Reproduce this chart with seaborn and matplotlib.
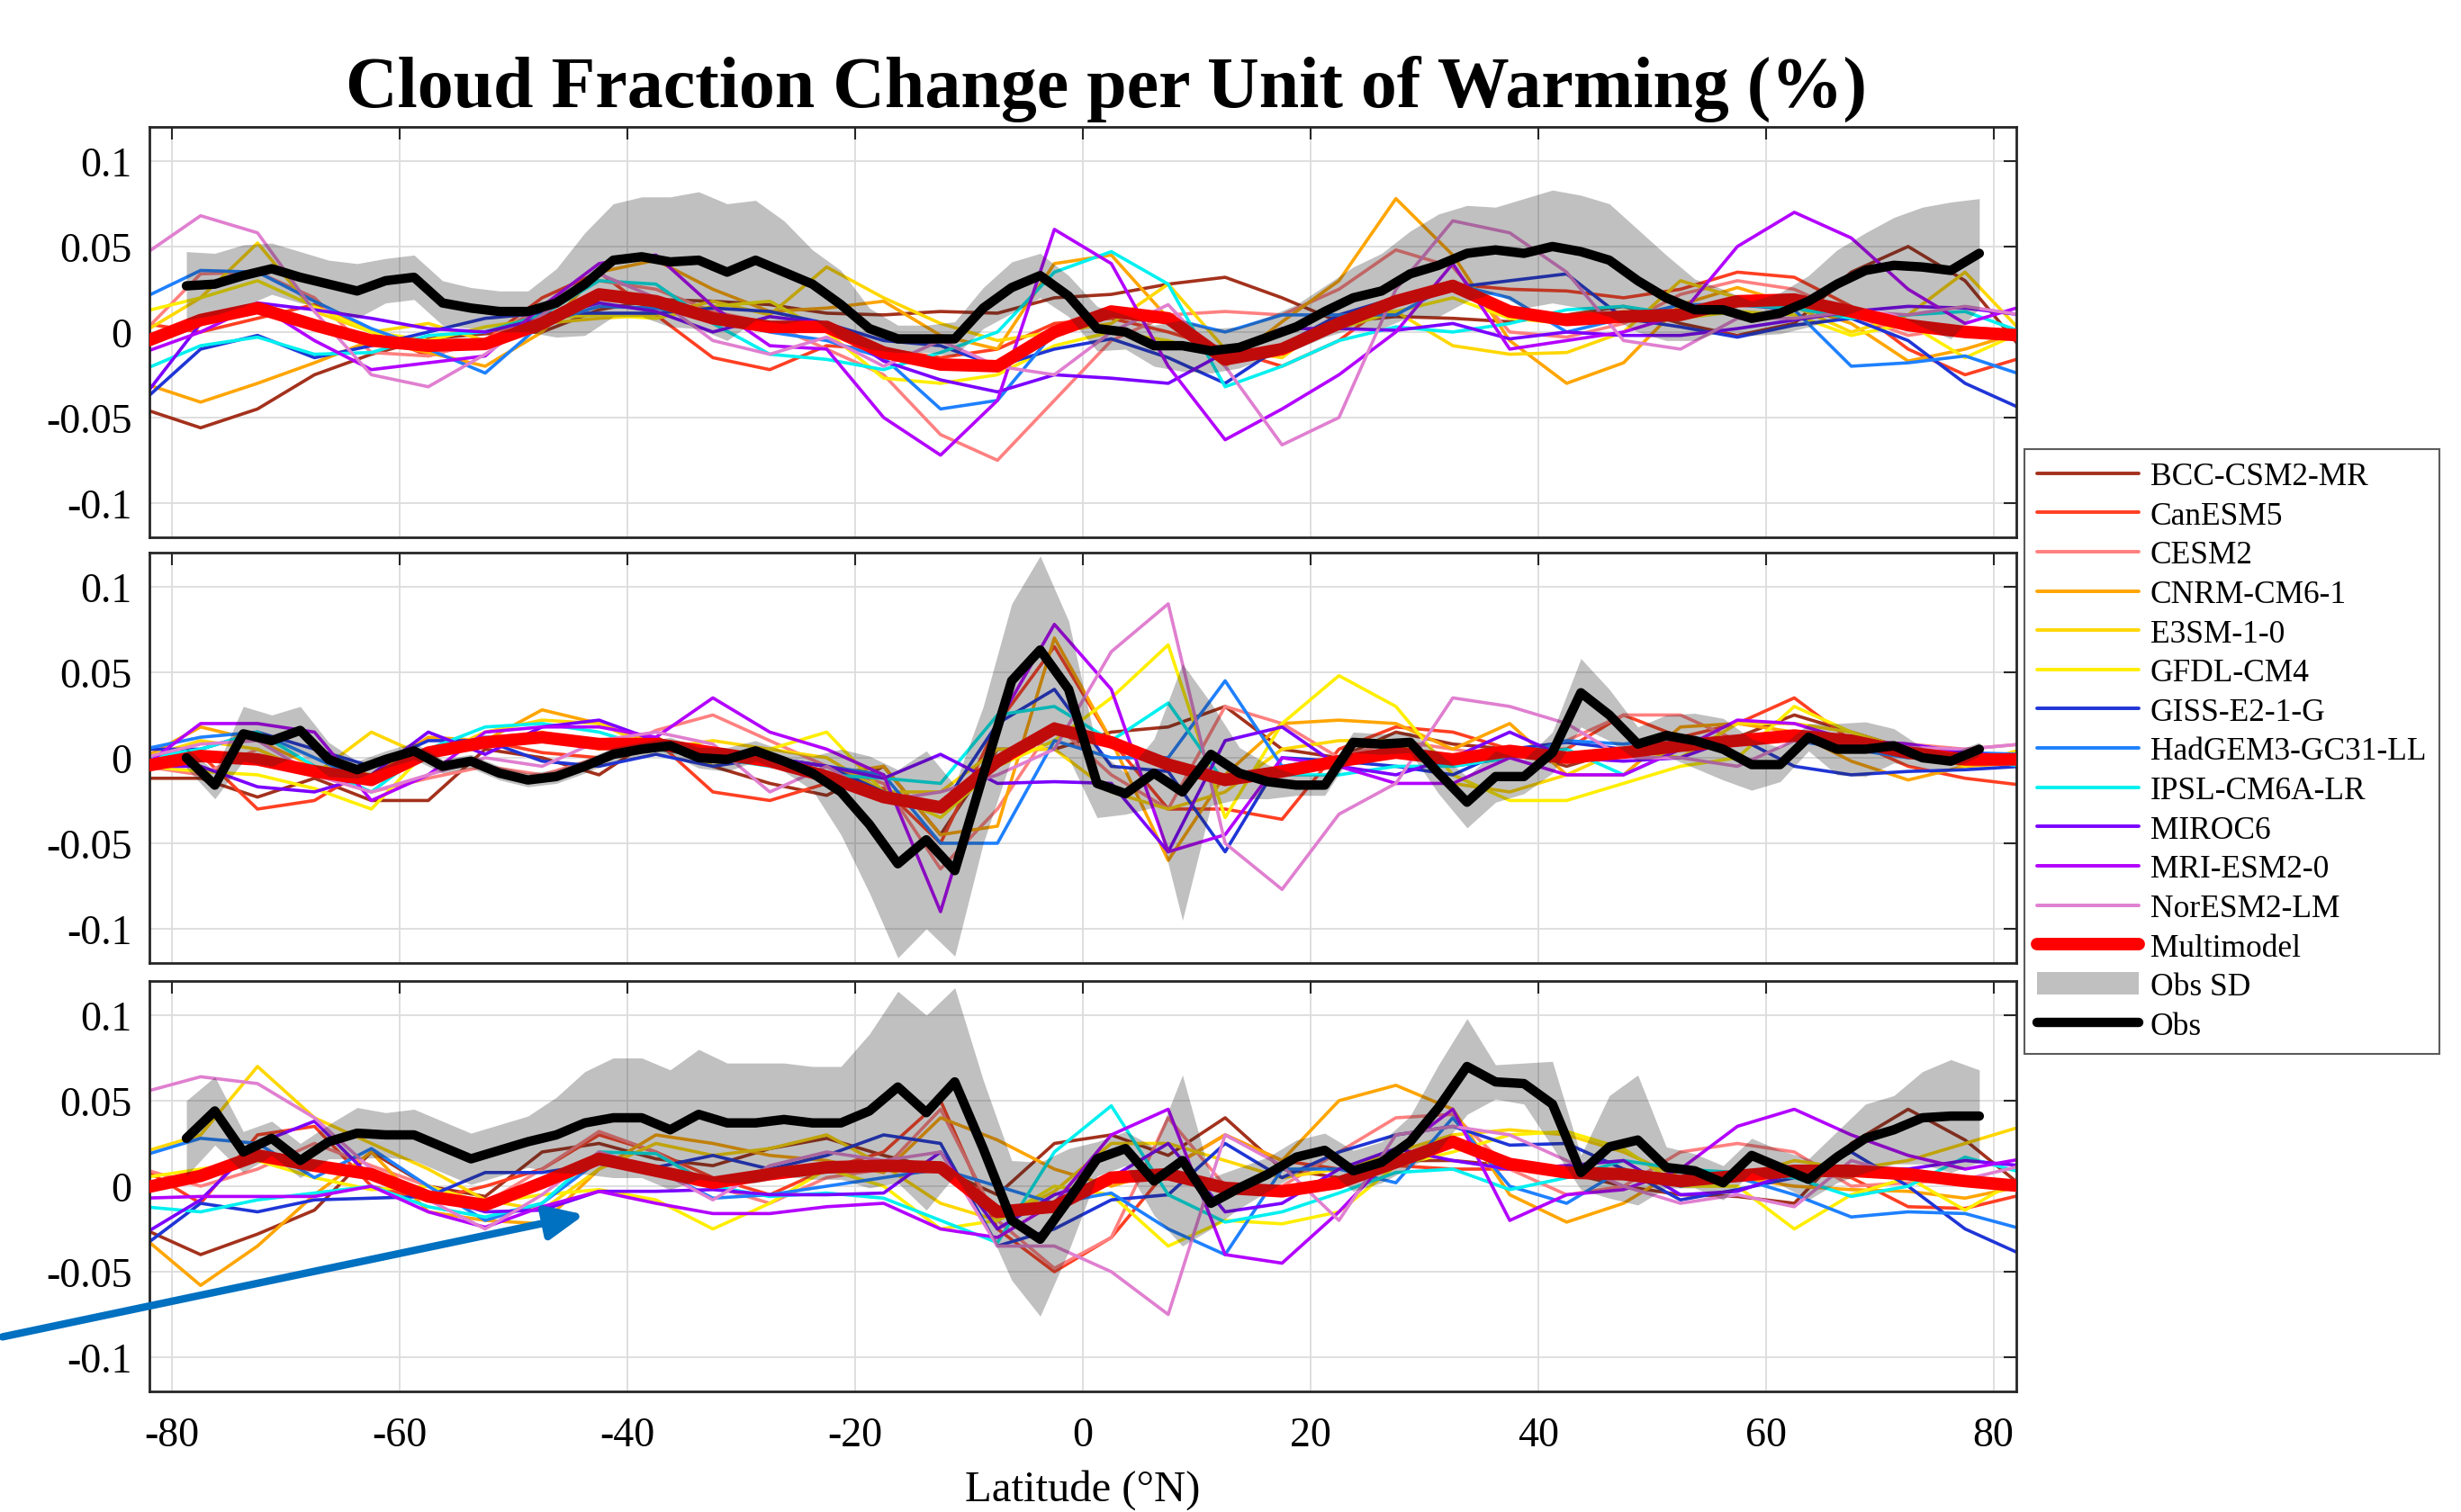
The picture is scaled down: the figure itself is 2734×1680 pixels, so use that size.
import numpy as np
import pandas as pd
import matplotlib
matplotlib.use("Agg")
import matplotlib.pyplot as plt
from matplotlib.lines import Line2D
from matplotlib.patches import Patch, FancyArrowPatch
import seaborn as sns

sns.set_style("white")
plt.rcParams['font.family'] = ['Liberation Serif', 'DejaVu Serif']
plt.rcParams['axes.unicode_minus'] = False
plt.rcParams['text.color'] = 'black'
plt.rcParams['xtick.labelcolor'] = 'black'
plt.rcParams['ytick.labelcolor'] = 'black'

models = ['BCC-CSM2-MR', 'CanESM5', 'CESM2', 'CNRM-CM6-1', 'E3SM-1-0', 'GFDL-CM4',
          'GISS-E2-1-G', 'HadGEM3-GC31-LL', 'IPSL-CM6A-LR', 'MIROC6', 'MRI-ESM2-0',
          'NorESM2-LM']
colors = ['#a3311c', '#ff3f22', '#ff8080', '#ffa500', '#ffd700', '#ffee00',
          '#1f35d6', '#1e80ff', '#00f0f0', '#7b00ff', '#b300ff', '#e07fd0']

lat_m = np.arange(-82.5, 83, 5)      # model grid
lat_o = np.arange(-78.75, 79, 2.5)   # obs grid

# ---- panel 1
p1_bcc = [-0.045, -0.056, -0.045, -0.025, -0.013, -0.004, -0.001, 0.0, 0.013, 0.019, 0.018, 0.016, 0.011, 0.01, 0.012, 0.011, 0.02, 0.022, 0.028, 0.032, 0.02, 0.006, 0.009, 0.008, 0.006, 0.01, 0.015, 0.005, -0.002, 0.005, 0.035, 0.05, 0.03, -0.01]
p1_can = [0.005, 0.0, 0.008, 0.016, 0.0, -0.014, -0.005, 0.02, 0.035, 0.01, -0.015, -0.022, -0.008, -0.01, -0.015, -0.01, 0.005, 0.008, 0.0, -0.01, -0.02, -0.005, 0.02, 0.028, 0.025, 0.024, 0.02, 0.025, 0.035, 0.032, 0.015, -0.01, -0.025, -0.015]
p1_cesm = [0.0, 0.034, 0.035, 0.02, -0.012, -0.014, -0.005, 0.015, 0.03, 0.025, 0.012, 0.005, -0.01, -0.025, -0.06, -0.075, -0.04, -0.005, 0.01, 0.012, 0.01, 0.025, 0.048, 0.038, 0.0, -0.003, 0.005, 0.022, 0.03, 0.025, 0.01, -0.002, 0.003, 0.0]
p1_cnrm = [-0.03, -0.041, -0.03, -0.018, -0.005, -0.012, -0.02, 0.0, 0.035, 0.042, 0.025, 0.012, 0.014, 0.018, -0.002, -0.01, 0.04, 0.045, 0.008, -0.02, 0.006, 0.03, 0.078, 0.045, -0.005, -0.03, -0.018, 0.016, 0.026, 0.016, 0.005, -0.017, -0.01, 0.0]
p1_e3sm = [0.0, 0.02, 0.052, 0.012, 0.0, 0.005, -0.005, 0.005, 0.008, 0.01, 0.018, 0.01, 0.038, 0.02, 0.005, -0.005, 0.0, 0.005, 0.028, -0.01, -0.015, 0.01, 0.012, -0.008, -0.013, -0.012, 0.0, 0.03, 0.02, 0.015, 0.0, 0.01, 0.035, 0.0]
p1_gfdl = [0.012, 0.02, 0.03, 0.015, 0.0, -0.005, 0.003, 0.008, 0.01, 0.008, 0.015, 0.018, 0.0, -0.027, -0.03, -0.025, -0.008, 0.0, -0.005, -0.015, -0.01, 0.002, 0.012, 0.02, 0.008, 0.005, 0.012, 0.008, 0.012, 0.01, -0.002, 0.005, -0.015, 0.0]
p1_giss = [-0.04, -0.01, -0.002, -0.015, -0.008, 0.0, 0.008, 0.011, 0.011, 0.011, 0.014, 0.012, 0.005, -0.005, -0.008, -0.02, -0.01, -0.004, -0.015, -0.03, -0.008, 0.01, 0.02, 0.026, 0.03, 0.034, 0.008, 0.003, -0.003, 0.004, 0.008, -0.005, -0.03, -0.045]
p1_had = [0.02, 0.036, 0.035, 0.018, 0.002, -0.01, -0.024, 0.005, 0.015, 0.014, 0.008, 0.0, -0.005, -0.015, -0.045, -0.04, 0.0, 0.01, 0.008, 0.0, 0.01, 0.01, 0.01, 0.028, 0.02, 0.0, 0.008, 0.016, 0.016, 0.013, -0.02, -0.018, -0.014, -0.025]
p1_ipsl = [-0.022, -0.008, -0.003, -0.013, -0.012, -0.002, 0.0, 0.01, 0.03, 0.028, 0.005, -0.013, -0.016, -0.022, -0.012, 0.0, 0.035, 0.047, 0.028, -0.032, -0.02, -0.005, 0.003, 0.0, 0.005, 0.013, 0.015, 0.01, 0.016, 0.014, 0.008, 0.01, 0.012, 0.0]
p1_miroc = [-0.038, 0.005, 0.017, 0.013, 0.008, 0.002, 0.0, 0.008, 0.017, 0.012, 0.0, 0.009, 0.005, -0.017, -0.028, -0.035, -0.025, -0.027, -0.03, -0.012, 0.002, 0.002, 0.001, 0.005, -0.004, 0.0, -0.002, -0.002, 0.002, 0.007, 0.012, 0.015, 0.014, 0.01]
p1_mri = [-0.012, 0.0, 0.016, -0.005, -0.022, -0.018, -0.014, 0.015, 0.04, 0.045, 0.015, -0.008, -0.01, -0.05, -0.072, -0.04, 0.06, 0.04, -0.02, -0.063, -0.045, -0.025, 0.0, 0.04, -0.01, -0.005, 0.0, 0.01, 0.05, 0.07, 0.055, 0.025, 0.005, 0.015]
p1_nor = [0.045, 0.068, 0.058, 0.012, -0.025, -0.032, -0.013, 0.01, 0.034, 0.02, -0.005, -0.013, -0.003, -0.02, -0.005, -0.02, -0.025, 0.0, 0.016, -0.02, -0.066, -0.05, 0.025, 0.065, 0.058, 0.035, -0.005, -0.01, 0.008, 0.008, 0.012, 0.01, 0.015, 0.01]
p1_mm = [-0.006, 0.007, 0.014, 0.004, -0.005, -0.008, -0.007, 0.005, 0.022, 0.018, 0.008, 0.003, 0.003, -0.012, -0.019, -0.02, 0.0, 0.012, 0.008, -0.016, -0.01, 0.005, 0.018, 0.027, 0.012, 0.007, 0.009, 0.01, 0.018, 0.019, 0.012, 0.004, 0.0, -0.002]
p1_obs = [0.027, 0.028, 0.033, 0.037, 0.032, 0.028, 0.024, 0.030, 0.032, 0.017,
          0.014, 0.012, 0.012, 0.017, 0.028, 0.042, 0.044, 0.041, 0.042, 0.035,
          0.042, 0.035, 0.028, 0.016, 0.002, -0.004, -0.004, -0.004, 0.014, 0.026,
          0.033, 0.021, 0.002, 0.0, -0.008, -0.008, -0.011, -0.009, -0.003, 0.003,
          0.012, 0.02, 0.024, 0.034, 0.039, 0.046, 0.048, 0.046, 0.05, 0.047,
          0.042, 0.03, 0.02, 0.013, 0.013, 0.008, 0.011, 0.018, 0.028, 0.036,
          0.039, 0.038, 0.036, 0.046]
p1_sd = [0.02, 0.018, 0.018, 0.015, 0.015, 0.014, 0.016, 0.013, 0.013, 0.013,
         0.012, 0.012, 0.012, 0.02, 0.03, 0.033, 0.035, 0.038, 0.04, 0.04,
         0.035, 0.03, 0.02, 0.02, 0.012, 0.008, 0.008, 0.01, 0.012, 0.015,
         0.013, 0.012, 0.013, 0.01, 0.012, 0.015, 0.013, 0.012, 0.012, 0.013,
         0.015, 0.018, 0.022, 0.025, 0.03, 0.028, 0.025, 0.032, 0.033, 0.033,
         0.033, 0.03, 0.025, 0.018, 0.012, 0.01, 0.012, 0.015, 0.02, 0.022,
         0.028, 0.035, 0.04, 0.032]

# ---- panel 2
p2_bcc = [-0.012, -0.012, -0.023, -0.012, -0.025, -0.025, 0.005, 0.0, -0.01, 0.012, -0.005, -0.015, -0.022, -0.005, -0.045, 0.005, 0.005, 0.015, 0.018, 0.03, 0.005, 0.0, 0.015, 0.008, 0.005, -0.005, 0.005, 0.005, 0.012, 0.025, 0.015, 0.005, 0.003, 0.0]
p2_can = [0.0, 0.002, -0.03, -0.025, -0.005, 0.005, 0.01, 0.003, 0.0, 0.01, -0.02, -0.025, -0.015, -0.018, -0.05, 0.02, 0.065, 0.01, -0.03, -0.03, -0.036, 0.005, 0.018, 0.015, 0.005, 0.005, 0.025, 0.012, 0.02, 0.035, 0.01, -0.005, -0.012, -0.016]
p2_cesm = [-0.005, -0.01, 0.005, -0.01, -0.02, -0.012, -0.005, -0.01, 0.0, 0.016, 0.025, 0.01, -0.005, -0.015, -0.065, -0.03, 0.02, -0.01, -0.03, 0.03, 0.02, 0.0, 0.01, 0.005, 0.0, 0.01, 0.025, 0.025, 0.01, 0.015, 0.01, 0.008, 0.005, 0.008]
p2_cnrm = [0.0, 0.018, 0.01, -0.005, -0.01, 0.012, 0.01, 0.028, 0.02, 0.008, 0.005, 0.0, -0.01, -0.005, -0.045, -0.04, 0.07, 0.01, -0.06, -0.01, 0.02, 0.022, 0.02, 0.005, 0.02, -0.01, -0.01, 0.018, 0.02, 0.015, -0.002, -0.013, -0.005, -0.003]
p2_e3sm = [0.0, 0.01, 0.005, -0.01, 0.015, 0.0, 0.015, 0.022, 0.02, 0.005, 0.01, 0.005, 0.0, -0.02, -0.02, 0.005, 0.005, -0.02, -0.03, -0.02, 0.005, 0.01, 0.01, -0.015, -0.02, -0.01, 0.005, 0.0, 0.02, 0.02, 0.015, 0.005, -0.005, 0.005]
p2_gfdl = [-0.005, -0.008, -0.01, -0.018, -0.03, 0.005, 0.01, 0.015, 0.005, 0.01, -0.005, 0.005, 0.015, -0.02, -0.035, -0.005, 0.01, 0.035, 0.066, -0.035, 0.02, 0.048, 0.03, -0.01, -0.025, -0.025, -0.015, -0.005, 0.0, 0.03, 0.015, 0.0, 0.0, 0.0]
p2_giss = [0.005, 0.005, 0.015, 0.005, -0.005, 0.01, 0.01, -0.002, -0.005, 0.002, -0.005, 0.0, -0.005, -0.02, -0.03, 0.02, 0.04, -0.005, -0.008, -0.055, 0.0, -0.002, -0.005, -0.01, 0.005, 0.009, 0.005, 0.01, 0.012, -0.005, -0.01, -0.008, -0.007, -0.005]
p2_had = [0.005, 0.012, 0.015, 0.0, -0.015, 0.005, 0.012, 0.01, 0.008, 0.01, 0.0, 0.0, -0.005, -0.01, -0.05, -0.05, 0.01, 0.0, 0.0, 0.045, -0.005, 0.0, 0.002, -0.005, 0.0, 0.01, 0.008, 0.012, 0.01, 0.01, 0.005, 0.0, 0.003, 0.002]
p2_ipsl = [0.0, 0.005, 0.015, -0.005, -0.02, 0.005, 0.018, 0.02, 0.015, 0.005, 0.0, -0.005, -0.01, -0.012, -0.015, 0.025, 0.03, 0.01, 0.032, -0.015, -0.01, -0.01, -0.005, -0.005, 0.0, 0.005, -0.01, 0.005, 0.01, 0.015, 0.01, 0.005, 0.0, -0.005]
p2_miroc = [-0.005, -0.005, -0.017, -0.02, -0.01, 0.015, 0.002, 0.018, 0.022, 0.01, 0.005, 0.0, -0.005, -0.012, 0.002, -0.015, -0.014, -0.015, -0.055, 0.01, 0.018, -0.005, -0.01, 0.0, 0.015, 0.0, -0.002, 0.0, 0.012, 0.015, 0.01, 0.008, 0.003, 0.0]
p2_mri = [-0.005, 0.02, 0.02, 0.015, -0.025, -0.01, 0.015, 0.018, 0.018, 0.012, 0.035, 0.015, 0.005, -0.01, -0.09, 0.02, 0.078, 0.04, -0.055, -0.045, 0.0, -0.005, -0.015, -0.015, 0.0, -0.01, -0.01, 0.005, 0.022, 0.02, 0.01, 0.008, 0.0, 0.0]
p2_nor = [0.0, 0.008, 0.01, -0.01, -0.02, -0.01, 0.0, -0.005, 0.01, 0.015, 0.008, -0.02, -0.005, -0.025, -0.02, -0.01, 0.005, 0.062, 0.09, -0.05, -0.077, -0.033, -0.015, 0.035, 0.03, 0.02, 0.0, 0.0, -0.005, 0.01, 0.008, 0.006, 0.005, 0.008]
p2_mm = [-0.005, 0.001, -0.001, -0.008, -0.013, 0.003, 0.009, 0.012, 0.008, 0.008, 0.003, -0.002, -0.011, -0.023, -0.029, -0.002, 0.017, 0.009, -0.004, -0.013, -0.008, -0.002, 0.003, -0.001, 0.004, 0.0, 0.003, 0.007, 0.01, 0.013, 0.01, 0.003, -0.001, -0.001]
p2_obs = [0.0, -0.016, 0.014, 0.01, 0.016, -0.001, -0.007, -0.001, 0.004, -0.005,
          -0.002, -0.009, -0.013, -0.011, -0.005, 0.002, 0.005, 0.007, 0.0, -0.001,
          0.004, -0.002, -0.009, -0.02, -0.039, -0.062, -0.048, -0.066, -0.01, 0.045,
          0.063, 0.04, -0.015, -0.021, -0.009, -0.02, 0.002, -0.009, -0.014, -0.016,
          -0.016, 0.009, 0.008, 0.009, -0.009, -0.026, -0.011, -0.011, 0.003, 0.038,
          0.025, 0.008, 0.013, 0.01, 0.005, -0.004, -0.004, 0.012, 0.005, 0.005,
          0.007, 0.0, -0.002, 0.005]
p2_sd = [0.006, 0.008, 0.016, 0.015, 0.014, 0.01, 0.005, 0.005, 0.005, 0.004,
         0.004, 0.004, 0.004, 0.004, 0.004, 0.004, 0.004, 0.005, 0.006, 0.007,
         0.006, 0.006, 0.01, 0.025, 0.04, 0.055, 0.052, 0.05, 0.04, 0.045,
         0.055, 0.04, 0.02, 0.012, 0.02, 0.075, 0.03, 0.015, 0.01, 0.006,
         0.006, 0.006, 0.006, 0.006, 0.012, 0.015, 0.015, 0.01, 0.012, 0.02,
         0.015, 0.01, 0.012, 0.016, 0.018, 0.015, 0.01, 0.008, 0.015, 0.016,
         0.01, 0.006, 0.005, 0.004]

# ---- panel 3
p3_bcc = [-0.025, -0.04, -0.028, -0.014, 0.02, 0.0, -0.006, 0.02, 0.025, 0.016, 0.012, 0.022, 0.028, 0.018, 0.01, -0.005, 0.025, 0.03, 0.018, 0.04, 0.01, 0.005, 0.015, 0.015, 0.012, 0.008, 0.0, -0.005, -0.006, -0.01, 0.025, 0.045, 0.027, 0.0]
p3_can = [0.01, -0.01, 0.03, 0.035, 0.0, -0.008, 0.0, 0.01, 0.03, 0.02, 0.005, -0.005, 0.01, 0.02, 0.05, -0.025, -0.05, -0.03, 0.01, 0.03, 0.015, 0.01, 0.012, 0.01, 0.01, 0.012, 0.008, 0.005, 0.004, 0.008, 0.005, -0.012, -0.013, -0.005]
p3_cesm = [0.01, 0.0, 0.01, 0.025, 0.012, 0.0, -0.01, 0.01, 0.032, 0.02, 0.0, -0.01, 0.005, 0.01, 0.045, -0.02, -0.048, -0.03, 0.04, 0.0, 0.0, 0.02, 0.04, 0.042, 0.01, -0.005, 0.0, 0.02, 0.025, 0.02, 0.0, 0.002, 0.004, 0.0]
p3_cnrm = [-0.03, -0.058, -0.035, -0.005, 0.02, -0.015, -0.02, -0.022, 0.01, 0.03, 0.025, 0.018, 0.015, 0.008, 0.04, 0.027, 0.01, 0.0, 0.01, 0.03, 0.015, 0.05, 0.059, 0.045, -0.005, -0.021, -0.01, 0.01, 0.005, 0.0, -0.002, -0.003, -0.007, 0.0]
p3_e3sm = [0.02, 0.03, 0.07, 0.04, 0.025, 0.01, -0.008, -0.014, 0.01, 0.025, 0.018, 0.022, 0.03, 0.012, -0.01, -0.02, -0.003, 0.025, 0.025, 0.015, 0.005, 0.01, 0.02, 0.03, 0.033, 0.03, 0.02, 0.005, 0.005, 0.015, 0.01, 0.015, 0.025, 0.035]
p3_gfdl = [0.005, 0.01, 0.015, 0.005, -0.002, 0.0, -0.01, -0.005, -0.002, -0.008, -0.025, -0.01, 0.01, 0.0, -0.025, -0.02, 0.0, -0.005, -0.035, -0.02, -0.022, -0.015, 0.012, 0.02, 0.03, 0.032, 0.022, 0.0, 0.0, -0.025, -0.005, 0.005, -0.014, 0.005]
p3_giss = [-0.035, -0.01, -0.015, -0.008, -0.007, -0.006, 0.008, 0.008, 0.013, 0.011, 0.018, 0.01, 0.018, 0.03, 0.025, -0.035, -0.025, -0.008, -0.005, 0.025, 0.005, 0.02, 0.03, 0.035, 0.024, 0.025, 0.01, -0.008, -0.002, 0.005, 0.02, 0.0, -0.025, -0.04]
p3_had = [0.018, 0.028, 0.025, 0.005, 0.022, 0.0, -0.02, -0.01, 0.015, 0.01, -0.007, -0.005, 0.0, 0.005, 0.01, 0.0, -0.01, -0.004, -0.025, -0.04, 0.01, 0.01, 0.002, 0.04, 0.0, -0.01, 0.01, 0.0, 0.005, -0.005, -0.018, -0.015, -0.016, -0.025]
p3_ipsl = [-0.012, -0.015, -0.008, -0.004, 0.0, -0.012, -0.018, -0.01, 0.02, 0.019, 0.0, -0.006, -0.004, -0.007, -0.02, -0.033, 0.02, 0.047, -0.005, -0.021, -0.015, -0.004, 0.008, 0.01, -0.002, 0.005, 0.015, 0.01, 0.008, 0.005, -0.006, 0.0, 0.017, 0.008]
p3_miroc = [-0.028, -0.008, 0.025, 0.038, 0.005, -0.005, -0.015, -0.014, -0.003, -0.003, -0.002, -0.005, -0.005, -0.004, 0.02, -0.025, -0.005, 0.005, 0.025, -0.015, -0.01, 0.01, 0.022, 0.015, 0.01, 0.012, 0.015, -0.005, -0.003, 0.008, 0.011, 0.01, 0.015, 0.012]
p3_mri = [-0.007, -0.006, -0.006, -0.006, 0.0, -0.015, -0.024, -0.012, -0.003, -0.01, -0.016, -0.016, -0.012, -0.01, -0.025, -0.03, -0.01, 0.03, 0.045, -0.04, -0.045, -0.015, 0.02, 0.045, -0.02, -0.005, -0.002, 0.01, 0.035, 0.045, 0.03, 0.018, 0.01, 0.016]
p3_nor = [0.055, 0.064, 0.06, 0.04, 0.01, -0.008, -0.025, -0.005, 0.02, 0.01, -0.008, 0.012, 0.02, 0.015, 0.02, -0.035, -0.035, -0.05, -0.075, 0.03, 0.012, -0.02, 0.03, 0.035, 0.03, 0.015, 0.0, -0.01, -0.005, -0.012, 0.015, 0.006, 0.004, 0.012]
p3_mm = [-0.001, 0.006, 0.018, 0.012, 0.007, -0.006, -0.011, 0.002, 0.016, 0.009, 0.002, 0.007, 0.011, 0.012, 0.011, -0.015, -0.012, 0.005, 0.007, -0.001, -0.003, 0.002, 0.014, 0.026, 0.013, 0.008, 0.007, 0.003, 0.006, 0.009, 0.009, 0.007, 0.003, 0.0]
p3_obs = [0.028, 0.044, 0.02, 0.028, 0.015, 0.026, 0.031, 0.03, 0.03, 0.023,
          0.016, 0.021, 0.026, 0.03, 0.037, 0.04, 0.04, 0.033, 0.042, 0.037,
          0.037, 0.039, 0.037, 0.037, 0.044, 0.058, 0.043, 0.061, 0.022, -0.02,
          -0.031, -0.008, 0.016, 0.022, 0.003, 0.015, -0.01, -0.001, 0.007, 0.017,
          0.021, 0.009, 0.014, 0.026, 0.046, 0.07, 0.061, 0.06, 0.048, 0.008,
          0.023, 0.027, 0.011, 0.009, 0.002, 0.018, 0.011, 0.004, 0.017, 0.028,
          0.033, 0.04, 0.041, 0.041]
p3_sd = [0.022, 0.02, 0.012, 0.01, 0.01, 0.01, 0.015, 0.013, 0.015, 0.015,
         0.015, 0.015, 0.015, 0.022, 0.03, 0.035, 0.035, 0.035, 0.038, 0.035,
         0.035, 0.033, 0.033, 0.033, 0.045, 0.056, 0.057, 0.055, 0.04, 0.035,
         0.045, 0.03, 0.01, 0.01, 0.02, 0.05, 0.015, 0.012, 0.01, 0.01,
         0.01, 0.012, 0.012, 0.015, 0.025, 0.028, 0.01, 0.012, 0.025, 0.01,
         0.03, 0.038, 0.012, 0.01, 0.01, 0.01, 0.01, 0.012, 0.015, 0.02,
         0.02, 0.027, 0.033, 0.027]

panels = [
    ([p1_bcc, p1_can, p1_cesm, p1_cnrm, p1_e3sm, p1_gfdl, p1_giss, p1_had, p1_ipsl, p1_miroc, p1_mri, p1_nor], p1_mm, p1_obs, p1_sd),
    ([p2_bcc, p2_can, p2_cesm, p2_cnrm, p2_e3sm, p2_gfdl, p2_giss, p2_had, p2_ipsl, p2_miroc, p2_mri, p2_nor], p2_mm, p2_obs, p2_sd),
    ([p3_bcc, p3_can, p3_cesm, p3_cnrm, p3_e3sm, p3_gfdl, p3_giss, p3_had, p3_ipsl, p3_miroc, p3_mri, p3_nor], p3_mm, p3_obs, p3_sd),
]

fig = plt.figure(figsize=(27.34, 16.81), dpi=100)
bottoms = [0.6443, 0.3629, 0.0797]
sd_color = '0.15'
sd_alpha = 0.29

for i, (mod_vals, mm, obs, sd) in enumerate(panels):
    ax = fig.add_axes([0.0607, bottoms[i], 0.7586, 0.2713])
    df = pd.DataFrame({m: v for m, v in zip(models, mod_vals)})
    df['lat'] = lat_m
    long = df.melt(id_vars='lat', var_name='model', value_name='dcf')
    sns.lineplot(data=long, x='lat', y='dcf', hue='model', hue_order=models,
                 palette=colors, linewidth=2.6, legend=False, errorbar=None,
                 ax=ax, zorder=2)
    sns.lineplot(x=lat_m, y=mm, color='#ff0000', linewidth=10, ax=ax, zorder=3)
    obs = np.array(obs)
    sd = np.array(sd)
    ax.fill_between(lat_o, obs - sd, obs + sd, color=sd_color, alpha=sd_alpha,
                    linewidth=0, zorder=4)
    sns.lineplot(x=lat_o, y=obs, color='black', linewidth=7.5, ax=ax, zorder=5)

    ax.set_xlim(-82, 82)
    ax.set_ylim(-0.12, 0.12)
    ax.set_xticks(np.arange(-80, 81, 20))
    ax.set_yticks([-0.1, -0.05, 0, 0.05, 0.1])
    ax.set_yticklabels(['-0.1', '-0.05', '0', '0.05', '0.1'])
    ax.grid(True, color='#dcdcdc', linewidth=1.3)
    ax.tick_params(direction='in', length=10, width=1.5, top=True, right=True,
                   labelsize=33, color='#262626', labelcolor='black', pad=14)
    ax.tick_params(axis='x', pad=20)
    for s in ax.spines.values():
        s.set_color('#262626')
        s.set_linewidth(2)
    ax.set_xlabel('')
    ax.set_ylabel('')
    if i < 2:
        ax.set_xticklabels([])
    else:
        ax.set_xticklabels([str(v) for v in range(-80, 81, 20)])

fig.text(0.4497, 0.9294, 'Cloud Fraction Change per Unit of Warming (%)',
         ha='center', va='baseline', fontsize=57.5, fontweight='bold', color='black')
fig.text(0.44, 0.0149, 'Latitude (°N)', ha='center', va='center', fontsize=35,
         color='black')

handles = [Line2D([0], [0], color=c, lw=2.8) for c in colors]
handles += [Line2D([0], [0], color='#ff0000', lw=10),
            Patch(facecolor=sd_color, alpha=sd_alpha, edgecolor='none'),
            Line2D([0], [0], color='black', lw=7.5)]
labels = models + ['Multimodel', 'Obs SD', 'Obs']
leg = fig.legend(handles, labels, loc='upper left', bbox_to_anchor=(0.8226, 0.7026),
                 fontsize=25.5, frameon=True, fancybox=False, edgecolor='#333333',
                 handlelength=3.2, handletextpad=0.35, labelspacing=0.3,
                 borderpad=0.4, borderaxespad=0)
leg.get_frame().set_linewidth(1.5)
for t in leg.get_texts():
    t.set_color('black')

arrow = FancyArrowPatch((0.0, 1 - 1487 / 1681), (652 / 2734, 1 - 1350 / 1681),
                        transform=fig.transFigure,
                        arrowstyle='-|>,head_length=1.0,head_width=0.45',
                        mutation_scale=25, lw=6, color='#0070c0')
fig.add_artist(arrow)

fig.savefig('out.png', dpi=100)
